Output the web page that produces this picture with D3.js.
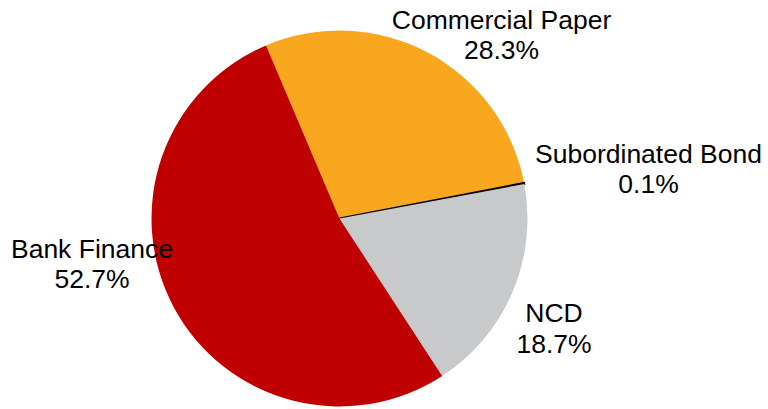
<!DOCTYPE html>
<html>
<head>
<meta charset="utf-8">
<script src="https://cdn.jsdelivr.net/npm/d3@7/dist/d3.min.js"></script>
<style>
  html, body { margin: 0; padding: 0; background: #ffffff; }
  svg { display: block; }
</style>
</head>
<body>
<svg id="chart" width="768" height="409"></svg>
<script>
// ---- data ----
const categories = ["Commercial Paper", "Subordinated Bond", "NCD", "Bank Finance"];
const shares = [28.3, 0.1, 18.7, 52.7];
const percentLabels = ["28.3%", "0.1%", "18.7%", "52.7%"];
const colors = ["#F9A71E", "#000000", "#C8C9CB", "#C00000"];

// ---- layout ----
const W = 768, H = 409;
const cx = 339.5, cy = 218.5, radius = 188;
const startDeg = -23;
const labelPos = [
  { x: 501.5, y: 28.5 },
  { x: 648.5, y: 162.5 },
  { x: 554, y: 322 },
  { x: 92, y: 257.5 }
];
const lineGap = 30.5;

const svg = d3.select("#chart");
const data = categories.map((c, i) => ({ name: c, value: shares[i], label: percentLabels[i], color: colors[i], pos: labelPos[i] }));

const start = startDeg * Math.PI / 180;
const pie = d3.pie().sort(null).value(d => d.value).startAngle(start).endAngle(start + 2 * Math.PI);
const arc = d3.arc().innerRadius(0).outerRadius(radius);

const g = svg.append("g").attr("transform", `translate(${cx},${cy})`);
g.selectAll("path.slice")
  .data(pie(data))
  .join("path")
  .attr("class", "slice")
  .attr("d", arc)
  .attr("fill", d => d.data.color)
  .attr("stroke", d => d.data.color === "#000000" ? "#000000" : "none")
  .attr("stroke-width", d => d.data.color === "#000000" ? 1.8 : 0);

const labels = svg.append("g")
  .attr("font-family", "'Liberation Sans', Arial, sans-serif")
  .attr("font-size", 26.5)
  .attr("fill", "#000000")
  .attr("text-anchor", "middle");

const lg = labels.selectAll("text")
  .data(data)
  .join("text")
  .attr("x", d => d.pos.x)
  .attr("y", d => d.pos.y);
lg.append("tspan").attr("x", d => d.pos.x).text(d => d.name);
lg.append("tspan").attr("x", d => d.pos.x).attr("dy", lineGap).text(d => d.label);
</script>
</body>
</html>
